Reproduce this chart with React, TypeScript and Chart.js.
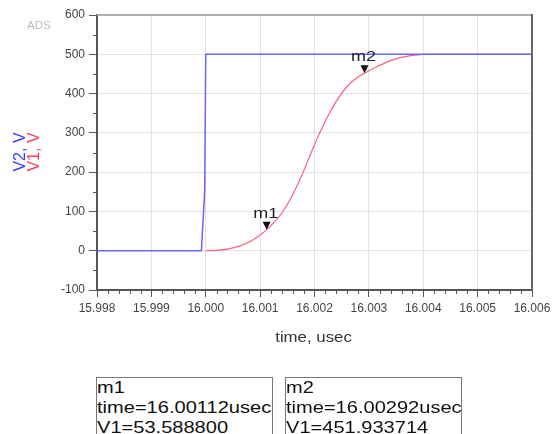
import React, { useEffect, useRef } from "react";
import { Chart, registerables } from "chart.js";

Chart.register(...registerables);

// ---- data ----
const xTicks = [15.998, 15.999, 16.0, 16.001, 16.002, 16.003, 16.004, 16.005, 16.006];
const xTickLabels = ["15.998", "15.999", "16.000", "16.001", "16.002", "16.003", "16.004", "16.005", "16.006"];
const yTicks = [-100, 0, 100, 200, 300, 400, 500, 600];

const v2Time = [15.998, 15.99992, 15.99998, 16.0, 16.006];
const v2Vals = [0, 0, 150, 500, 500];

const v1Time = [
  16.0, 16.0002, 16.0004, 16.0006, 16.0008, 16.001, 16.00112, 16.0012, 16.0014, 16.0016,
  16.0018, 16.002, 16.0022, 16.0024, 16.0026, 16.0028, 16.00292, 16.003, 16.0032, 16.0034,
  16.0036, 16.0038, 16.004, 16.0042, 16.006,
];
const v1Vals = [
  0, 1, 4, 11, 22, 40, 53.5888, 64, 96, 143,
  203, 270, 330, 380, 418, 442, 451.933714, 458, 472, 484,
  492, 497, 499.5, 500, 500,
];

const markerNames = ["m1", "m2"];
const markerTimes = [16.00112, 16.00292];
const markerVals = [53.5888, 451.933714];
const markerTimeText = ["time=16.00112usec", "time=16.00292usec"];
const markerValText = ["V1=53.588800", "V1=451.933714"];

const FONT = "Arial, 'Liberation Sans', sans-serif";

const overlayPlugin = {
  id: "overlay",
  afterDraw(chart: any) {
    const { ctx, chartArea } = chart;
    const xs = chart.scales.x;
    const ys = chart.scales.y;
    ctx.save();
    // top & right borders
    ctx.strokeStyle = "#b0b0b0";
    ctx.lineWidth = 2;
    ctx.beginPath();
    ctx.moveTo(chartArea.left, chartArea.top);
    ctx.lineTo(chartArea.right, chartArea.top);
    ctx.stroke();
    ctx.strokeStyle = "#666";
    ctx.beginPath();
    ctx.moveTo(chartArea.right, chartArea.top - 1);
    ctx.lineTo(chartArea.right, chartArea.bottom);
    ctx.stroke();

    // minor ticks
    ctx.strokeStyle = "#555";
    ctx.lineWidth = 1;
    ctx.beginPath();
    for (let i = 0; i < xTicks.length - 1; i++) {
      for (let k = 1; k < 5; k++) {
        const v = xTicks[i] + ((xTicks[i + 1] - xTicks[i]) * k) / 5;
        const px = Math.round(xs.getPixelForValue(v)) + 0.5;
        ctx.moveTo(px, chartArea.bottom);
        ctx.lineTo(px, chartArea.bottom + 4);
      }
    }
    for (let i = 0; i < yTicks.length - 1; i++) {
      const v = (yTicks[i] + yTicks[i + 1]) / 2;
      const py = Math.round(ys.getPixelForValue(v)) + 0.5;
      ctx.moveTo(chartArea.left, py);
      ctx.lineTo(chartArea.left - 4, py);
    }
    ctx.stroke();

    // markers
    for (let i = 0; i < markerNames.length; i++) {
      const px = xs.getPixelForValue(markerTimes[i]);
      const py = ys.getPixelForValue(markerVals[i]);
      ctx.fillStyle = "#111";
      ctx.beginPath();
      ctx.moveTo(px, py);
      ctx.lineTo(px - 4, py - 8);
      ctx.lineTo(px + 4, py - 8);
      ctx.closePath();
      ctx.fill();
      ctx.font = `15px ${FONT}`;
      ctx.textAlign = "center";
      ctx.textBaseline = "alphabetic";
      ctx.fillStyle = "#222";
      ctx.save();
      ctx.translate(px - 1, py - 12);
      ctx.scale(1.2, 1);
      ctx.fillText(markerNames[i], 0, 0);
      ctx.restore();
    }

    // y axis titles
    ctx.font = `16px ${FONT}`;
    ctx.textAlign = "center";
    ctx.textBaseline = "middle";
    const cy = 152;
    ctx.save();
    ctx.translate(21, cy);
    ctx.rotate(-Math.PI / 2);
    ctx.fillStyle = "#3a3aff";
    ctx.fillText("V2, V", 0, 0);
    ctx.restore();
    ctx.save();
    ctx.translate(35, cy);
    ctx.rotate(-Math.PI / 2);
    ctx.fillStyle = "#ff3a5a";
    ctx.fillText("V1, V", 0, 0);
    ctx.restore();

    // ADS
    ctx.font = `10px ${FONT}`;
    ctx.fillStyle = "#bbb";
    ctx.textAlign = "left";
    ctx.textBaseline = "middle";
    ctx.save();
    ctx.translate(27, 26);
    ctx.scale(1.15, 1);
    ctx.fillText("ADS", 0, 0);
    ctx.restore();

    // x title
    ctx.font = `14px ${FONT}`;
    ctx.fillStyle = "#333";
    ctx.textAlign = "center";
    ctx.textBaseline = "middle";
    ctx.save();
    ctx.translate((chartArea.left + chartArea.right) / 2 - 1, chartArea.bottom + 48);
    ctx.scale(1.2, 1);
    ctx.fillText("time, usec", 0, 0);
    ctx.restore();
    ctx.restore();
  },
};

export default function App() {
  const ref = useRef<HTMLCanvasElement>(null);
  useEffect(() => {
    const canvas = ref.current!;
    const chart = new Chart(canvas, {
      type: "line",
      data: {
        datasets: [
          {
            label: "V2",
            data: v2Time.map((t, i) => ({ x: t, y: v2Vals[i] })),
            borderColor: "#6666ff",
            borderWidth: 1.5,
            pointRadius: 0,
            tension: 0,
          },
          {
            label: "V1",
            data: v1Time.map((t, i) => ({ x: t, y: v1Vals[i] })),
            borderColor: "#ff6080",
            borderWidth: 1.2,
            pointRadius: 0,
            cubicInterpolationMode: "monotone",
          },
        ],
      },
      options: {
        animation: false,
        responsive: false,
        devicePixelRatio: 1,
        layout: { padding: { left: 0, top: 15, right: 23, bottom: 0 } },
        plugins: { legend: { display: false }, tooltip: { enabled: false } },
        scales: {
          x: {
            type: "linear",
            min: 15.998,
            max: 16.006,
            afterBuildTicks: (s: any) => {
              s.ticks = xTicks.map((v) => ({ value: v }));
            },
            afterFit: (s: any) => {
              s.height = 144;
            },
            ticks: {
              autoSkip: false,
              maxRotation: 0,
              padding: 4,
              color: "#444",
              font: { family: FONT, size: 12 },
              callback: (_v: any, i: number) => xTickLabels[i],
            },
            grid: { color: "#e2e2e2", tickLength: 7, tickColor: "#555", lineWidth: 1 },
            border: { color: "#555", width: 2 },
          },
          y: {
            type: "linear",
            min: -100,
            max: 600,
            afterBuildTicks: (s: any) => {
              s.ticks = yTicks.map((v) => ({ value: v }));
            },
            afterFit: (s: any) => {
              s.width = 97;
            },
            ticks: {
              padding: 4,
              color: "#444",
              font: { family: FONT, size: 12 },
              callback: (v: any) => String(v),
            },
            grid: { color: "#e2e2e2", tickLength: 8, tickColor: "#555", lineWidth: 1 },
            border: { color: "#555", width: 2 },
          },
        },
      },
      plugins: [overlayPlugin],
    } as any);
    return () => chart.destroy();
  }, []);

  const boxStyle = (left: number): React.CSSProperties => ({
    position: "absolute",
    left,
    top: 377,
    width: 177,
    height: 70,
    border: "1.5px solid #777",
    boxSizing: "border-box",
    background: "#fff",
    overflow: "hidden",
  });
  const lineStyle: React.CSSProperties = {
    fontFamily: FONT,
    fontSize: 17,
    lineHeight: "20px",
    color: "#111",
    whiteSpace: "nowrap",
    transform: "scaleX(1.18)",
    transformOrigin: "left center",
    marginLeft: 0,
  };

  return (
    <div style={{ position: "absolute", left: 0, top: 0, width: 555, height: 434, background: "#fff", overflow: "hidden" }}>
      <canvas ref={ref} width={555} height={434} style={{ position: "absolute", left: 0, top: 0, width: 555, height: 434 }} />
      {markerNames.map((n, i) => (
        <div key={n} style={boxStyle(i === 0 ? 96 : 285)}>
          <div style={lineStyle}>{n}</div>
          <div style={lineStyle}>{markerTimeText[i]}</div>
          <div style={lineStyle}>{markerValText[i]}</div>
        </div>
      ))}
    </div>
  );
}
